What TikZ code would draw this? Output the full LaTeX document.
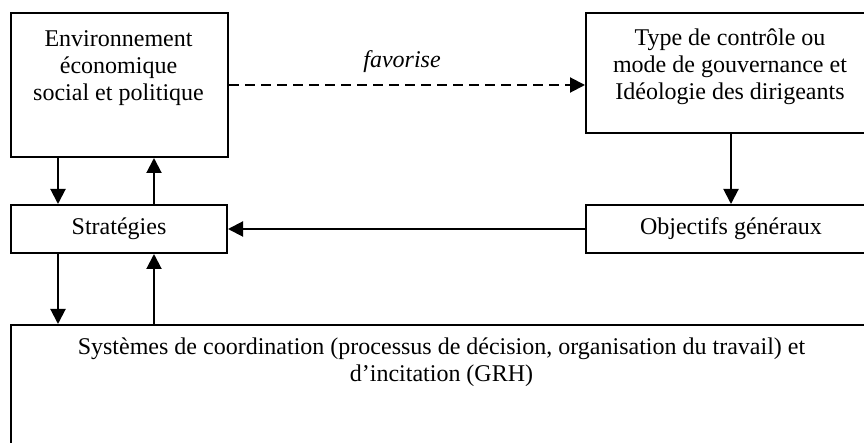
\documentclass[tikz,border=0pt]{standalone}
\usepackage{fontspec}
\setmainfont{Liberation Serif}
\usetikzlibrary{arrows.meta}
\tikzset{
  box/.style={draw, line width=2pt, rectangle, inner sep=0pt, anchor=north west},
  arr/.style={line width=2pt, -{Triangle[length=15pt,width=15pt]}},
}
\begin{document}
\begin{tikzpicture}[x=1pt,y=-1pt,font=\fontsize{24}{27}\selectfont]
  \useasboundingbox (0,0) rectangle (864,443);
  \draw
    (10,12) node[box, minimum width=217pt, minimum height=144pt] (env){}
    (585,12) node[box, minimum width=290pt, minimum height=120pt] (type){}
    (10,204) node[box, minimum width=216pt, minimum height=48pt] (strat){Stratégies}
    (585,204) node[box, minimum width=290pt, minimum height=48pt] (obj){Objectifs généraux}
    (10,324) node[box, minimum width=864pt, minimum height=150pt] (sys){};
  \draw
    (118.5,68) node[align=center] (envtxt){Environnement\\économique\\social et politique}
    (730,67) node[align=center] (typetxt){Type de contrôle ou\\mode de gouvernance et\\Idéologie des dirigeants}
    (441.5,362) node[align=center] (systxt){Systèmes de coordination (processus de décision, organisation du travail) et\\d’incitation (GRH)}
    (402,62) node (fav){\itshape favorise};
  \begin{scope}[arr]
    \draw ([xshift=48pt]env.south west) -- ([xshift=48pt]strat.north west);
    \draw ([xshift=144pt]strat.north west) -- ([xshift=144pt]env.south west);
    \draw ([xshift=48pt]strat.south west) -- ([xshift=48pt]sys.north west);
    \draw ([xshift=144pt]sys.north west) -- ([xshift=144pt]strat.south west);
    \draw (type.south) -- (obj.north);
    \draw (obj.west) -- (strat.east);
    \draw[dash pattern=on 10pt off 6pt] (env.east) -- (env.east -| type.west);
  \end{scope}
\end{tikzpicture}
\end{document}
